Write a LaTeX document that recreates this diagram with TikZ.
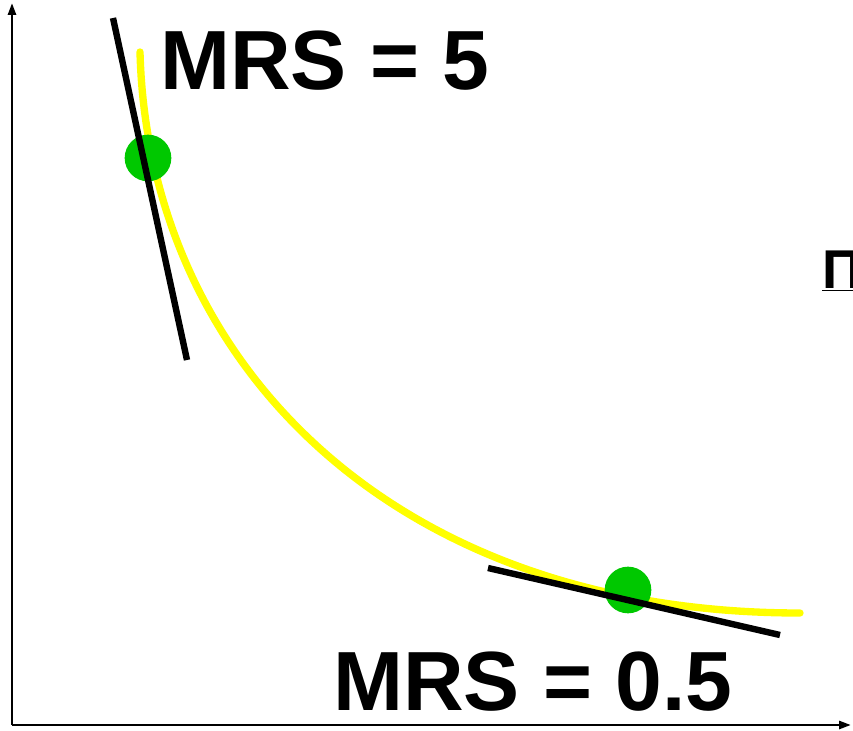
\documentclass[tikz,border=0pt]{standalone}
\usepackage{fontspec}
\setmainfont{Liberation Sans}
\usepackage{xcolor}
\usetikzlibrary{arrows.meta,positioning,calc}
\definecolor{icurve}{RGB}{255,255,0}
\definecolor{idot}{RGB}{0,200,0}
\tikzset{
  iaxis/.style={line width=2pt,-{Triangle[length=9pt,width=6pt]}},
  icurv/.style={draw=icurve,line width=5.5pt,line cap=round},
  itang/.style={line width=4.8pt},
  idotn/.style={circle,fill=idot,minimum size=35pt,inner sep=0pt},
  ilab/.style={font=\bfseries\fontsize{63pt}{63pt}\selectfont,inner sep=0pt,anchor=base west},
}

\begin{document}
\begin{tikzpicture}[x=0.75pt,y=-0.75pt]
\useasboundingbox (0,0) rectangle (853,731);
\clip (0,0) rectangle (853,731);
% axes
\coordinate (o) at (12,725);
\coordinate (ytop) at (12,3);
\coordinate (xend) at (851,725);
\draw[iaxis] (o) -- (ytop);
\draw[iaxis] (o) -- (xend);
% indifference curve
\coordinate (c0) at (140,52);
\coordinate (c1) at (800,613);
\draw[icurv] (c0) .. controls (148,360) and (390,613) .. (c1);
% points
\node[idotn] (pa) at (148,158) {};
\node[idotn] (pb) at (628,590) {};
% tangents
\coordinate (ta1) at (113,18);
\coordinate (ta2) at (187,360);
\coordinate (tb1) at (488,568);
\coordinate (tb2) at (780,635);
\draw[itang] (ta1) -- (ta2);
\draw[itang] (tb1) -- (tb2);
% labels
\node[ilab] (la) at (160,90) {MRS = 5};
\node[ilab] (lb) at (333,710) {MRS = 0.5};
\node[font=\bfseries\fontsize{41pt}{41pt}\selectfont,inner sep=0pt,anchor=base west] (lc) at (822,288) {\underline{П}};
\end{tikzpicture}
\end{document}
